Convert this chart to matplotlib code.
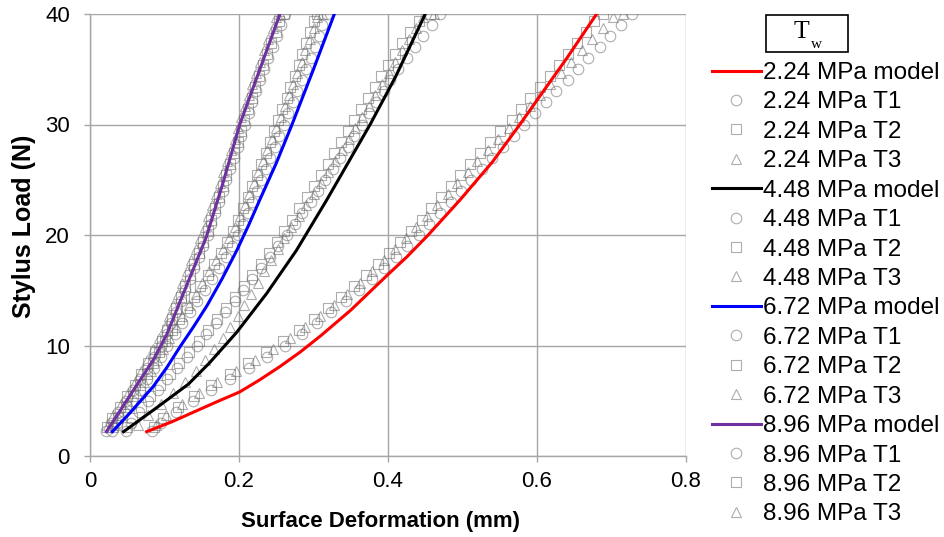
#!/usr/bin/env python3
"""
Stylus load vs. surface deformation: model curves and three tests (T1-T3)
for four tyre pressures (T_w).
"""

import matplotlib
matplotlib.use("Agg")
import matplotlib.pyplot as plt
import matplotlib.ticker as ticker
from matplotlib.patches import Rectangle

OUT_PNG = "out.png"

# ── Data ─────────────────────────────────────────────────────────────────────
PRESSURES = ["2.24", "4.48", "6.72", "8.96"]
MODEL_COLORS = ["#ff0000", "#000000", "#0000ff", "#7030a0"]

# model curves (x = deformation [mm], y = load [N])
MODEL_224_X = [0.076, 0.110, 0.140, 0.170, 0.201, 0.228, 0.255, 0.282, 0.310, 0.350,
               0.398, 0.425, 0.454, 0.497, 0.540, 0.577, 0.600, 0.640, 0.680]
MODEL_224_Y = [2.2, 3.1, 4.0, 4.9, 5.8, 6.9, 8.1, 9.4, 10.9, 13.2,
               16.3, 18.0, 20.0, 23.2, 26.6, 30.0, 32.2, 36.0, 40.0]
MODEL_448_X = [0.045, 0.088, 0.132, 0.160, 0.197, 0.237, 0.277, 0.318, 0.347, 0.376, 0.410, 0.450]
MODEL_448_Y = [2.2, 4.3, 6.5, 8.4, 11.2, 14.7, 18.6, 23.2, 26.6, 30.0, 34.3, 40.0]
MODEL_672_X = [0.030, 0.055, 0.085, 0.103, 0.121, 0.139, 0.157, 0.177, 0.197, 0.213,
               0.228, 0.250, 0.270, 0.300, 0.328]
MODEL_672_Y = [2.2, 4.0, 6.3, 8.0, 9.9, 11.7, 13.6, 16.0, 18.6, 20.9,
               23.2, 26.5, 29.8, 35.0, 40.0]
MODEL_896_X = [0.022, 0.050, 0.085, 0.103, 0.121, 0.138, 0.156, 0.178, 0.201, 0.228, 0.255]
MODEL_896_Y = [2.2, 5.1, 8.7, 11.0, 14.0, 16.8, 19.8, 24.6, 30.0, 35.0, 40.0]

# measured tests: load steps of each test [N]
LOAD_T1 = [2.3, 3, 4, 5, 6, 7, 8, 9, 10, 11, 12, 13, 14, 15, 16, 17, 18, 19, 20,
           21, 22, 23, 24, 25, 26, 27, 28, 29, 30, 31, 32, 33, 34, 35, 36, 37, 38, 39, 40]
LOAD_T2 = [2.6, 3.4, 4.4, 5.4, 6.4, 7.4, 8.4, 9.4, 10.4, 11.4, 12.4, 13.4, 14.4, 15.4,
           16.4, 17.4, 18.4, 19.4, 20.4, 21.4, 22.4, 23.4, 24.4, 25.4, 26.4, 27.4, 28.4,
           29.4, 30.4, 31.4, 32.4, 33.4, 34.4, 35.4, 36.4, 37.4, 38.4, 39.4, 40.0]
LOAD_T3 = [2.8, 3.7, 4.7, 5.7, 6.7, 7.7, 8.7, 9.7, 10.7, 11.7, 12.7, 13.7, 14.7, 15.7,
           16.7, 17.7, 18.7, 19.7, 20.7, 21.7, 22.7, 23.7, 24.7, 25.7, 26.7, 27.7, 28.7,
           29.7, 30.7, 31.7, 32.7, 33.7, 34.7, 35.7, 36.7, 37.7, 38.7, 39.7, 40.0]

T1_224 = [.083, .095, .115, .138, .162, .188, .213, .238, .262, .284, .305, .324, .343,
          .361, .379, .395, .411, .426, .441, .455, .470, .484, .498, .512, .526, .540,
          .554, .569, .583, .597, .612, .626, .641, .655, .669, .684, .698, .713, .727]
T2_224 = [.086, .098, .118, .140, .163, .188, .212, .236, .259, .280, .300, .319, .337,
          .354, .371, .386, .401, .416, .431, .445, .458, .471, .484, .497, .510, .523,
          .537, .551, .566, .578, .591, .604, .617, .630, .642, .654, .666, .677, .689]
T3_224 = [.088, .102, .123, .146, .171, .196, .221, .245, .268, .289, .309, .327, .345,
          .362, .378, .394, .409, .424, .438, .452, .466, .480, .493, .507, .520, .534,
          .548, .562, .576, .590, .604, .618, .632, .646, .660, .674, .688, .702, .716]

T1_448 = [.048, .055, .066, .078, .091, .104, .117, .130, .143, .156, .169, .181, .194,
          .206, .218, .230, .241, .253, .264, .275, .285, .296, .306, .316, .326, .336,
          .346, .355, .365, .375, .384, .394, .403, .414, .425, .436, .447, .459, .470]
T2_448 = [.050, .057, .068, .081, .094, .107, .120, .133, .146, .159, .171, .183, .195,
          .207, .218, .229, .240, .251, .261, .271, .281, .291, .300, .310, .319, .328,
          .337, .346, .355, .364, .373, .382, .391, .400, .409, .419, .430, .442, .456]
T3_448 = [.065, .078, .095, .112, .128, .142, .155, .167, .178, .188, .198, .207, .216,
          .225, .234, .243, .252, .261, .270, .280, .290, .300, .310, .319, .329, .338,
          .347, .356, .365, .374, .383, .392, .401, .410, .419, .428, .437, .447, .462]

T1_672 = [.029, .036, .046, .057, .067, .077, .086, .095, .104, .114, .124, .134, .144,
          .154, .164, .173, .182, .190, .198, .205, .212, .218, .224, .230, .236, .242,
          .248, .254, .260, .266, .272, .278, .284, .290, .296, .302, .307, .312, .318]
T2_672 = [.031, .038, .048, .058, .067, .076, .084, .092, .100, .110, .120, .130, .139,
          .148, .158, .167, .176, .184, .192, .199, .206, .212, .218, .224, .230, .236,
          .242, .247, .253, .258, .264, .269, .275, .280, .285, .290, .295, .300, .305]
T3_672 = [.033, .041, .052, .063, .073, .082, .090, .098, .106, .115, .124, .133, .142,
          .151, .160, .169, .178, .186, .194, .201, .208, .214, .220, .226, .232, .238,
          .244, .250, .256, .262, .267, .273, .278, .284, .289, .295, .300, .305, .311]

T1_896 = [.021, .028, .038, .048, .058, .067, .077, .086, .095, .103, .109, .115, .122,
          .128, .134, .140, .146, .152, .158, .163, .168, .173, .178, .183, .188, .193,
          .198, .203, .208, .213, .218, .223, .228, .233, .239, .245, .251, .256, .262]
T2_896 = [.023, .030, .040, .050, .060, .069, .078, .087, .096, .103, .110, .116, .122,
          .128, .134, .140, .146, .152, .158, .163, .168, .173, .178, .183, .188, .193,
          .198, .203, .207, .212, .217, .222, .227, .232, .238, .243, .249, .254, .260]
T3_896 = [.024, .031, .041, .051, .060, .069, .077, .085, .093, .100, .106, .112, .118,
          .124, .130, .136, .142, .148, .154, .159, .164, .169, .174, .179, .184, .189,
          .194, .199, .203, .208, .213, .218, .223, .228, .234, .239, .245, .250, .255]
# ─────────────────────────────────────────────────────────────────────────────

MODELS = [(MODEL_224_X, MODEL_224_Y), (MODEL_448_X, MODEL_448_Y),
          (MODEL_672_X, MODEL_672_Y), (MODEL_896_X, MODEL_896_Y)]
TESTS = [(T1_224, T2_224, T3_224), (T1_448, T2_448, T3_448),
         (T1_672, T2_672, T3_672), (T1_896, T2_896, T3_896)]
LOADS = [LOAD_T1, LOAD_T2, LOAD_T3]
MARKERS = [("o", 7.6), ("s", 6.6), ("^", 7.2)]

GRID_C = "#a6a6a6"


def main():
    plt.rcParams["font.family"] = ["Liberation Sans", "DejaVu Sans"]

    fig = plt.figure(figsize=(9.45, 5.37), dpi=100)
    ax = fig.add_axes([90 / 945, 81 / 537, 596 / 945, 442 / 537])

    handles = []
    for p, col, (mx, my), tests in zip(PRESSURES, MODEL_COLORS, MODELS, TESTS):
        h, = ax.plot(mx, my, color=col, lw=2.2, zorder=4, label=f"{p} MPa model")
        handles.append(h)
        for k, (xs, ys, (mk, ms)) in enumerate(zip(tests, LOADS, MARKERS)):
            h, = ax.plot(xs, ys, ls="none", marker=mk, ms=ms, mfc="none",
                         mec="#6a6a6a", mew=0.8, alpha=0.55, zorder=3,
                         label=f"{p} MPa T{k + 1}")
            handles.append(h)

    ax.set_xlim(0, 0.8)
    ax.set_ylim(0, 40)
    ax.set_xticks([0, 0.2, 0.4, 0.6, 0.8])
    ax.set_yticks([0, 10, 20, 30, 40])
    ax.xaxis.set_major_formatter(ticker.FuncFormatter(lambda v, _: f"{v:g}"))
    ax.yaxis.set_major_formatter(ticker.FuncFormatter(lambda v, _: f"{v:g}"))
    ax.grid(True, color=GRID_C, lw=1.0)
    ax.set_axisbelow(True)
    for s in ("top", "right"):
        ax.spines[s].set_visible(False)
    for s in ("left", "bottom"):
        ax.spines[s].set_color(GRID_C)
        ax.spines[s].set_linewidth(1.0)
    ax.tick_params(direction="out", length=4.5, width=1.0, color=GRID_C,
                   labelsize=16)
    ax.tick_params(axis="y", pad=10)
    ax.tick_params(axis="x", pad=6)

    ax.set_xlabel("Surface Deformation (mm)", fontsize=16, fontweight="bold")
    ax.set_ylabel("Stylus Load (N)", fontsize=18, fontweight="bold")
    ax.xaxis.set_label_coords(0.487, -0.125)
    ax.yaxis.set_label_coords(-0.09, 0.52)

    # legend at right, title drawn as a separate boxed "T_w"
    fig.legend(handles, [h.get_label() for h in handles], loc="upper left",
               bbox_to_anchor=(712 / 945, 1 - 62 / 537), frameon=False,
               fontsize=17.5, borderpad=0, borderaxespad=0, labelspacing=0.305,
               handlelength=2.0, handletextpad=0.1)

    fig.add_artist(Rectangle((766 / 945, 1 - 52 / 537), 82 / 945, 37 / 537,
                             transform=fig.transFigure, fill=False,
                             ec="black", lw=1.2))
    fig.text(801 / 945, 1 - 32 / 537, "T", ha="center", va="center",
             family="Liberation Serif", fontsize=18.5)
    fig.text(816 / 945, 1 - 44 / 537, "w", ha="center", va="center",
             family="Liberation Serif", fontsize=11)

    fig.savefig(OUT_PNG, dpi=100)


if __name__ == "__main__":
    main()
